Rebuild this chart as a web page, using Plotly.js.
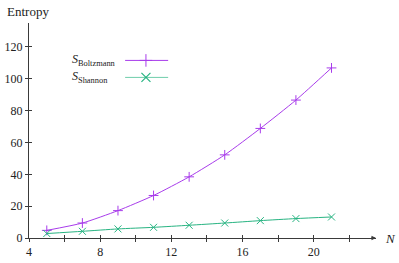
<!DOCTYPE html>
<html><head><meta charset="utf-8">
<script src="https://cdn.plot.ly/plotly-3.0.1.min.js"></script>
<style>html,body{margin:0;padding:0;background:#fff}#c{width:399px;height:263px}</style>
</head><body><div id="c"></div>
<script>
const N = [5, 7, 9, 11, 13, 15, 17, 19, 21];
const S_boltzmann = [4.8, 9.4, 17.2, 26.7, 38.4, 52.2, 68.8, 86.6, 106.8];
const S_shannon = [2.8, 4.2, 5.7, 6.7, 8.0, 9.4, 10.9, 12.2, 13.2];
const xTicks = [4, 6, 8, 10, 12, 14, 16, 18, 20, 22];
const xLabelTicks = [4, 8, 12, 16, 20];
const yTicks = [0, 20, 40, 60, 80, 100, 120];
const names = ['S<sub>Boltzmann</sub>', 'S<sub>Shannon</sub>'];
const xRange = [4, 23.5];
const yRange = [0, 135];

const purple = 'rgb(168,60,235)';
const green = 'rgb(40,180,130)';
const axisCol = '#3a3a3a';
const font = {family: 'Liberation Serif, DejaVu Serif, serif', size: 12, color: '#222'};

const traces = [
  {x: N, y: S_boltzmann, mode: 'lines+markers', line: {color: purple, width: 1, shape: 'spline', smoothing: 0.6},
   marker: {symbol: 'cross-thin', size: 7, line: {color: purple, width: 1}}, showlegend: false},
  {x: N, y: S_shannon, mode: 'lines+markers', line: {color: green, width: 1, shape: 'spline', smoothing: 0.6},
   marker: {symbol: 'x-thin', size: 7, line: {color: green, width: 1}}, showlegend: false},
  // legend glyphs (on hidden overlay axes)
  {x: [0.277, 0.337, 0.401], y: [0.826, 0.826, 0.826], xaxis: 'x3', yaxis: 'y3', mode: 'lines', line: {color: purple, width: 1}, showlegend: false, hoverinfo: 'skip'},
  {x: [0.337], y: [0.826], xaxis: 'x3', yaxis: 'y3', mode: 'markers', marker: {symbol: 'cross-thin', size: 9, line: {color: purple, width: 1}}, showlegend: false, hoverinfo: 'skip'},
  {x: [0.277, 0.337, 0.401], y: [0.747, 0.747, 0.747], xaxis: 'x3', yaxis: 'y3', mode: 'lines', line: {color: 'rgb(110,205,170)', width: 1}, showlegend: false, hoverinfo: 'skip'},
  {x: [0.337], y: [0.747], xaxis: 'x3', yaxis: 'y3', mode: 'markers', marker: {symbol: 'x-thin', size: 9, line: {color: green, width: 1.2}}, showlegend: false, hoverinfo: 'skip'},
  {x: [xRange[0]], y: [yRange[0]], xaxis: 'x2', yaxis: 'y2', mode: 'markers', marker: {opacity: 0}, showlegend: false, hoverinfo: 'skip'}
];

const layout = {
  width: 399, height: 263,
  margin: {l: 29, r: 23, t: 23, b: 25, pad: 0},
  paper_bgcolor: '#fff', plot_bgcolor: '#fff',
  font: font,
  showlegend: false,
  xaxis: {range: xRange, tickvals: xLabelTicks, ticks: 'outside', ticklen: 3, tickwidth: 1, tickcolor: axisCol,
          minor: {tickvals: xTicks, ticks: 'outside', ticklen: 3, tickwidth: 1, tickcolor: axisCol, showgrid: false},
          showline: true, linecolor: axisCol, linewidth: 1, showgrid: false, zeroline: false, tickfont: font},
  yaxis: {range: yRange, tickvals: yTicks, ticks: 'outside', ticklen: 3, tickwidth: 1, tickcolor: axisCol,
          showline: true, linecolor: axisCol, linewidth: 1, showgrid: false, zeroline: false, tickfont: font},
  xaxis2: {overlaying: 'x', range: xRange, anchor: 'y2', side: 'bottom', tickvals: xTicks, ticks: 'inside', ticklen: 3, tickwidth: 1, tickcolor: axisCol,
           showticklabels: false, showgrid: false, zeroline: false, showline: false},
  yaxis2: {overlaying: 'y', range: yRange, anchor: 'x2', side: 'left', tickvals: yTicks, ticks: 'inside', ticklen: 3, tickwidth: 1, tickcolor: axisCol,
           showticklabels: false, showgrid: false, zeroline: false, showline: false},
  xaxis3: {overlaying: 'x', range: [0, 1], visible: false, anchor: 'y3'},
  yaxis3: {overlaying: 'y', range: [0, 1], visible: false, anchor: 'x3'},
  annotations: [
    {xref: 'paper', yref: 'paper', x: 1, y: 0, ax: -8, ay: 0, showarrow: true, arrowhead: 2, arrowsize: 0.9, arrowwidth: 1, arrowcolor: axisCol, text: ' '},
    {xref: 'paper', yref: 'paper', x: 0, y: 1, ax: 0, ay: 8, showarrow: true, arrowhead: 2, arrowsize: 0.9, arrowwidth: 1, arrowcolor: axisCol, text: ' '},
    {xref: 'paper', yref: 'paper', x: 1, y: 0, xshift: 7, xanchor: 'left', yanchor: 'middle', showarrow: false, text: '<i>N</i>', font: {family: font.family, size: 13, color: '#222'}},
    {xref: 'paper', yref: 'paper', x: 0, y: 1, xshift: -24, yshift: 12, xanchor: 'left', yanchor: 'middle', showarrow: false, text: 'Entropy', font: {family: font.family, size: 13, color: '#222'}},
    {xref: 'paper', yref: 'paper', x: 0.118, y: 0.826, xanchor: 'left', yanchor: 'middle', showarrow: false, text: '<i>' + names[0].replace('<sub>', '</i><sub>'), font: {family: font.family, size: 12, color: '#222'}},
    {xref: 'paper', yref: 'paper', x: 0.118, y: 0.747, xanchor: 'left', yanchor: 'middle', showarrow: false, text: '<i>' + names[1].replace('<sub>', '</i><sub>'), font: {family: font.family, size: 12, color: '#222'}}
  ]
};
Plotly.newPlot('c', traces, layout, {staticPlot: true, displayModeBar: false});
</script></body></html>
